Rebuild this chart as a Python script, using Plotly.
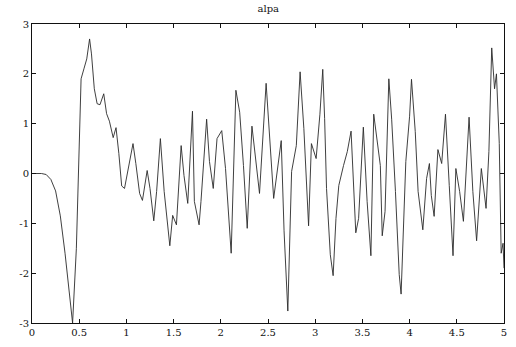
import plotly.graph_objects as go

# Time samples and response values of the "alpa" signal
t = [0.00, 0.10, 0.15, 0.20, 0.25, 0.30, 0.35, 0.40, 0.43, 0.47,
     0.52, 0.55, 0.58, 0.61, 0.63, 0.66, 0.69, 0.72, 0.76, 0.79,
     0.82, 0.86, 0.89, 0.92, 0.95, 0.98, 1.02, 1.07, 1.10, 1.14,
     1.17, 1.22, 1.25, 1.29, 1.32, 1.36, 1.40, 1.46, 1.49, 1.53,
     1.58, 1.61, 1.65, 1.70, 1.72, 1.77, 1.79, 1.85, 1.88, 1.92,
     1.96, 2.01, 2.05, 2.11, 2.16, 2.20, 2.24, 2.28, 2.33, 2.37,
     2.41, 2.48, 2.50, 2.56, 2.64, 2.67, 2.71, 2.75, 2.80, 2.84,
     2.88, 2.93, 2.96, 3.01, 3.05, 3.08, 3.10, 3.12, 3.16, 3.19,
     3.22, 3.25, 3.30, 3.34, 3.38, 3.41, 3.43, 3.46, 3.51, 3.55,
     3.59, 3.62, 3.67, 3.69, 3.71, 3.74, 3.78, 3.81, 3.85, 3.89,
     3.91, 3.96, 4.00, 4.02, 4.06, 4.09, 4.14, 4.18, 4.21, 4.23,
     4.26, 4.30, 4.34, 4.38, 4.42, 4.46, 4.49, 4.53, 4.57, 4.63,
     4.67, 4.71, 4.76, 4.81, 4.84, 4.87, 4.90, 4.92, 4.95, 4.97,
     4.99, 5.00]
alpa = [0.00, 0.00, -0.02, -0.12, -0.35, -0.85, -1.60, -2.45, -3.00, -1.50,
        1.90, 2.10, 2.30, 2.70, 2.40, 1.70, 1.40, 1.38, 1.60, 1.20,
        1.05, 0.72, 0.92, 0.40, -0.25, -0.30, 0.10, 0.60, 0.20, -0.40,
        -0.54, 0.06, -0.30, -0.95, -0.36, 0.70, -0.36, -1.45, -0.84, -1.03,
        0.56, -0.04, -0.60, 1.25, -0.56, -1.03, -0.56, 1.09, 0.24, -0.30,
        0.70, 0.86, 0.10, -1.60, 1.67, 1.23, 0.16, -1.10, 0.95, 0.24,
        -0.40, 1.81, 1.23, -0.50, 0.66, -1.15, -2.76, 0.04, 0.56, 2.04,
        0.90, -1.05, 0.60, 0.30, 1.19, 2.09, 1.10, -0.30, -1.63, -2.05,
        -0.90, -0.24, 0.16, 0.44, 0.85, -0.50, -1.19, -0.90, 0.93, -0.56,
        -1.65, 1.19, 0.44, 0.16, -1.25, -0.76, 1.90, 1.09, -0.36, -2.03,
        -2.42, 0.24, 1.15, 1.89, 0.84, -0.36, -1.13, -0.10, 0.20, -0.44,
        -0.86, 0.48, 0.20, 1.19, -0.24, -1.65, 0.10, -0.36, -0.96, 1.13,
        -0.36, -1.35, 0.10, -0.70, 0.44, 2.52, 1.70, 2.00, 0.60, -1.60,
        -1.40, -1.90]

x_ticks = [0, 0.5, 1, 1.5, 2, 2.5, 3, 3.5, 4, 4.5, 5]
x_labels = ["0", "0.5", "1", "1.5", "2", "2.5", "3", "3.5", "4", "4.5", "5"]
y_ticks = [-3, -2, -1, 0, 1, 2, 3]
y_labels = ["-3", "-2", "-1", "0", "1", "2", "3"]

font_family = "DejaVu Serif"

fig = go.Figure(
    go.Scatter(x=t, y=alpa, mode="lines",
               line=dict(color="#2a2a2a", width=0.9))
)

axis_style = dict(
    showline=True, linecolor="#111111", linewidth=1,
    mirror="ticks", ticks="inside", ticklen=4, tickcolor="#111111",
    showgrid=False, zeroline=False,
    tickfont=dict(family=font_family, size=10, color="#111111"),
)

fig.update_xaxes(range=[0, 5], tickvals=x_ticks, ticktext=x_labels, **axis_style)
fig.update_yaxes(range=[-3, 3], tickvals=y_ticks, ticktext=y_labels, **axis_style)

fig.update_layout(
    width=516, height=347,
    margin=dict(l=32, r=9, t=24, b=21),
    paper_bgcolor="white", plot_bgcolor="white",
    showlegend=False,
    title=dict(text="alpa", x=0.52, xanchor="center", y=0.985, yanchor="top",
               font=dict(family=font_family, size=10, color="#111111")),
)

fig.write_html("out.html")
